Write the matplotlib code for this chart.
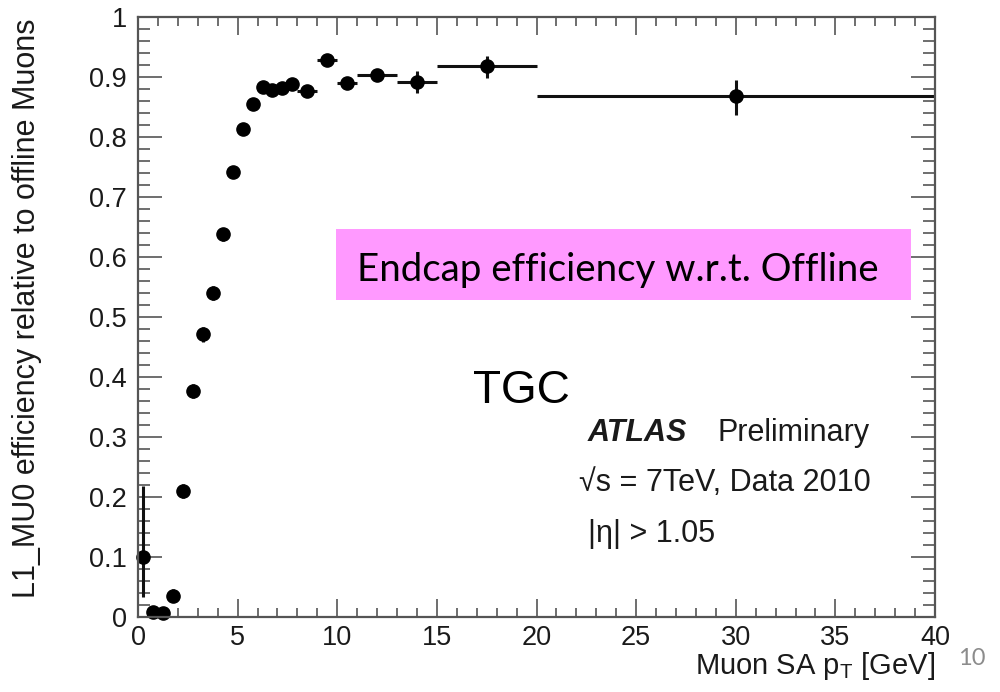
import matplotlib
matplotlib.use("Agg")
import matplotlib.pyplot as plt
from matplotlib.patches import Rectangle
from matplotlib.ticker import MultipleLocator, FuncFormatter

plt.rcParams["font.family"] = ["Liberation Sans", "DejaVu Sans"]
plt.rcParams["mathtext.fontset"] = "custom"
plt.rcParams["mathtext.rm"] = "Liberation Sans"
plt.rcParams["mathtext.it"] = "Liberation Sans:italic"
plt.rcParams["mathtext.bf"] = "Liberation Sans:bold"

# L1_MU0 trigger efficiency vs. offline standalone muon pT (TGC endcap)
pt_center = [0.25, 0.75, 1.25, 1.75, 2.25, 2.75, 3.25, 3.75, 4.25, 4.75,
             5.25, 5.75, 6.25, 6.75, 7.25, 7.75, 8.5, 9.5, 10.5, 12.0,
             14.0, 17.5, 30.0]
pt_halfwidth = [0.25] * 16 + [0.5, 0.5, 0.5, 1.0, 1.0, 2.5, 10.0]
efficiency = [0.100, 0.009, 0.006, 0.035, 0.210, 0.377, 0.471, 0.540, 0.638,
              0.741, 0.813, 0.855, 0.883, 0.878, 0.881, 0.888, 0.877, 0.929,
              0.890, 0.903, 0.892, 0.919, 0.868]
err_low = [0.066, 0.005, 0.004, 0.010, 0.012, 0.012, 0.012, 0.012, 0.011,
           0.009, 0.008, 0.007, 0.006, 0.006, 0.006, 0.006, 0.007, 0.007,
           0.009, 0.009, 0.019, 0.021, 0.032]
err_high = [0.118, 0.008, 0.006, 0.011, 0.012, 0.012, 0.012, 0.012, 0.011,
            0.009, 0.008, 0.007, 0.006, 0.006, 0.006, 0.006, 0.007, 0.007,
            0.008, 0.008, 0.018, 0.016, 0.027]

W, H = 1000, 692
fig = plt.figure(figsize=(W / 100, H / 100), dpi=100)
fig.patch.set_facecolor("white")

# axes frame in pixel units: x 138..935, y 17..617
ax = fig.add_axes([138 / W, 1 - 617 / H, 797 / W, 600 / H])
ax.set_xlim(0, 40)
ax.set_ylim(0, 1)

eb = ax.errorbar(pt_center, efficiency, xerr=pt_halfwidth,
                 yerr=[err_low, err_high], fmt="o", ms=9.5,
                 color="black", ecolor="#111111", elinewidth=2.2, capsize=0)
for art in [eb[0], *eb[2]]:
    art.set_clip_on(False)

frame_col = "#555555"
for sp in ax.spines.values():
    sp.set_color(frame_col)
    sp.set_linewidth(1.6)

ax.xaxis.set_major_locator(MultipleLocator(5))
ax.xaxis.set_minor_locator(MultipleLocator(1))
ax.yaxis.set_major_locator(MultipleLocator(0.1))
ax.yaxis.set_minor_locator(MultipleLocator(0.02))


def yfmt(v, pos):
    if abs(v) < 1e-9:
        return "0"
    if abs(v - 1) < 1e-9:
        return "1"
    return f"{v:.1f}"


ax.yaxis.set_major_formatter(FuncFormatter(yfmt))

ax.tick_params(axis="both", which="both", direction="in", top=True,
               right=True, color=frame_col, width=1.2, labelcolor="#1a1a1a",
               labelsize=19.5)
ax.tick_params(axis="x", which="major", length=13, pad=6)
ax.tick_params(axis="x", which="minor", length=6.5)
ax.tick_params(axis="y", which="major", length=17, pad=8)
ax.tick_params(axis="y", which="minor", length=8.6)


def px(x, y):
    return x / W, 1 - y / H


# axis titles
fig.text(*px(27, 308), "L1_MU0 efficiency relative to offline Muons",
         rotation=90, ha="center", va="center", fontsize=22, color="#1a1a1a")
fig.text(*px(935, 674), r"Muon SA p$_{\mathrm{T}}$ [GeV]", ha="right",
         va="baseline", fontsize=21, color="#1a1a1a")

# highlighted caption
fig.add_artist(Rectangle(px(336, 300), 575 / W, 71 / H,
                         transform=fig.transFigure, facecolor="#ff99ff",
                         edgecolor="none", zorder=5))
fig.text(*px(357, 281), "Endcap efficiency w.r.t. Offline", family="Lato",
         fontsize=27.7, va="baseline", ha="left", color="black", zorder=6)

fig.text(*px(473, 403), "TGC", fontsize=33, va="baseline", ha="left",
         color="black")

# experiment labels
fig.text(*px(588, 441), "ATLAS", fontsize=22, weight="bold", style="italic",
         va="baseline", color="#1a1a1a")
fig.text(*px(717, 441), "Preliminary", fontsize=22, va="baseline",
         color="#1a1a1a")
fig.text(*px(579, 491), "\u221as = 7TeV, Data 2010", fontsize=22,
         va="baseline", color="#1a1a1a")
fig.text(*px(588, 542), "|\u03b7| > 1.05", fontsize=22, va="baseline",
         color="#1a1a1a")

# page number
fig.text(*px(958, 665), "10", family="Lato", fontsize=17, va="baseline",
         color="#8c8c8c")

fig.savefig("out.png", dpi=100)
